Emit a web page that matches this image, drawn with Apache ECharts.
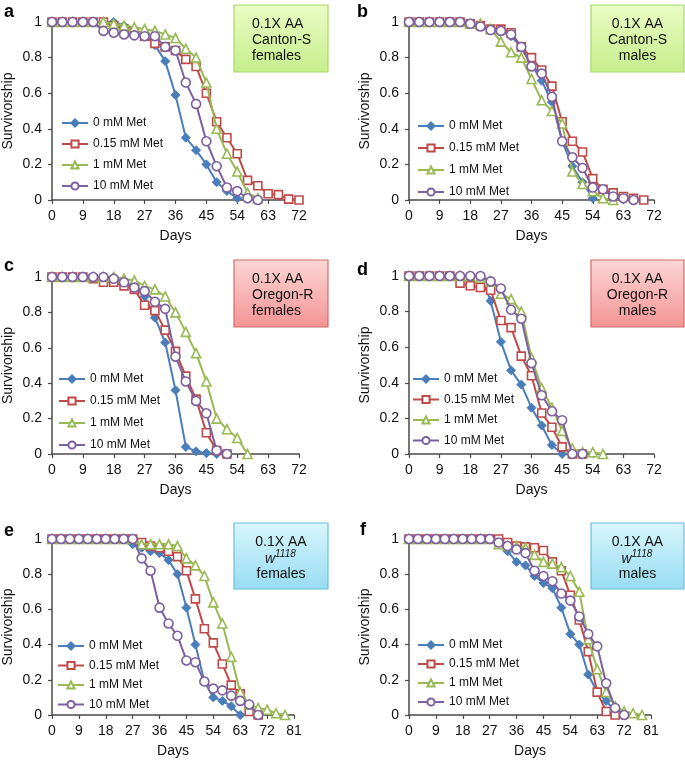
<!DOCTYPE html>
<html>
<head>
<meta charset="utf-8">
<script src="https://cdn.jsdelivr.net/npm/echarts@6/dist/echarts.min.js"></script>
<style>
html,body{margin:0;padding:0;background:#fff;}
#chart{width:685px;height:760px;}
</style>
</head>
<body>
<div id="chart"></div>
<script>
// Names and tick labels
const seriesNames = ['0 mM Met', '0.15 mM Met', '1 mM Met', '10 mM Met'];
const panelLetters = ['a', 'b', 'c', 'd', 'e', 'f'];
const xMaxes = [72, 72, 72, 72, 81, 81];
const xAxisName = 'Days';
const yAxisName = 'Survivorship';
const boxLines = [
  ['0.1X AA', 'Canton-S', 'females'],
  ['0.1X AA', 'Canton-S', 'males'],
  ['0.1X AA', 'Oregon-R', 'females'],
  ['0.1X AA', 'Oregon-R', 'males'],
  ['0.1X AA', 'w1118', 'females'],
  ['0.1X AA', 'w1118', 'males']
];

// Survivorship values, sampled every 3 days starting at day 0
// Panel a: Canton-S females
const a_0mM   = [1,1,1,1,1,1,1,0.98,0.96,0.93,0.87,0.78,0.59,0.35,0.28,0.20,0.10,0.05,0.01];
const a_015mM = [1,1,1,1,1,1,0.98,0.96,0.94,0.92,0.88,0.86,0.84,0.79,0.75,0.60,0.44,0.35,0.26,0.11,0.08,0.035,0.03,0.005,0];
const a_1mM   = [1,1,1,1,1,1,0.99,0.98,0.97,0.96,0.95,0.93,0.91,0.85,0.80,0.66,0.40,0.26,0.16,0.04,0.01];
const a_10mM  = [1,1,1,1,1,0.95,0.94,0.93,0.925,0.92,0.92,0.86,0.84,0.66,0.54,0.33,0.19,0.07,0.05,0.01,0];
// Panel b: Canton-S males
const b_0mM   = [1,1,1,1,1,1,0.99,0.975,0.955,0.95,0.92,0.86,0.76,0.67,0.55,0.33,0.19,0.10,0.01];
const b_015mM = [1,1,1,1,1,1,0.99,0.98,0.96,0.96,0.94,0.86,0.80,0.73,0.64,0.44,0.33,0.27,0.12,0.06,0.04,0.02,0.01,0];
const b_1mM   = [1,1,1,1,1,1,0.99,0.99,0.96,0.89,0.83,0.80,0.68,0.56,0.50,0.43,0.16,0.09,0.05,0.01,0];
const b_10mM  = [1,1,1,1,1,1,0.99,0.975,0.955,0.95,0.93,0.86,0.75,0.71,0.58,0.33,0.24,0.18,0.07,0.06,0.02,0.01,0];
// Panel c: Oregon-R females
const c_0mM   = [1,1,1,1,1,1,1,0.98,0.94,0.89,0.77,0.63,0.36,0.04,0.015,0.005,0];
const c_015mM = [1,1,1,1,0.99,0.97,0.97,0.95,0.93,0.84,0.81,0.70,0.58,0.44,0.31,0.12,0.02,0];
const c_1mM   = [1,1,1,1,1,1,1,0.99,0.98,0.95,0.93,0.89,0.80,0.69,0.57,0.41,0.20,0.14,0.09,0];
const c_10mM  = [1,1,1,1,1,1,0.99,0.97,0.94,0.92,0.86,0.82,0.55,0.41,0.30,0.23,0.02,0];
// Panel d: Oregon-R males
const d_0mM   = [1,1,1,1,1,1,1,1,0.86,0.63,0.47,0.39,0.26,0.16,0.05,0];
const d_015mM = [1,1,1,1,1,0.96,0.945,0.935,0.92,0.75,0.71,0.55,0.44,0.23,0.15,0.04,0,0];
const d_1mM   = [1,1,1,1,1,1,1,0.99,0.97,0.90,0.87,0.80,0.54,0.37,0.26,0.13,0.03,0.01,0.01,0];
const d_10mM  = [1,1,1,1,1,1,1,1,0.97,0.93,0.81,0.76,0.51,0.33,0.24,0.19,0,0];
// Panel e: w1118 females
const e_0mM   = [1,1,1,1,1,1,1,1,1,0.97,0.95,0.93,0.92,0.88,0.80,0.61,0.40,0.19,0.10,0.08,0.05,0];
const e_015mM = [1,1,1,1,1,1,1,1,1,1,0.98,0.96,0.95,0.93,0.90,0.82,0.66,0.49,0.41,0.29,0.17,0.12,0.02,0];
const e_1mM   = [1,1,1,1,1,1,1,1,1,1,0.97,0.97,0.97,0.97,0.96,0.89,0.85,0.79,0.64,0.52,0.33,0.13,0.06,0.04,0.03,0.01,0];
const e_10mM  = [1,1,1,1,1,1,1,1,1,1,0.89,0.82,0.61,0.52,0.45,0.31,0.30,0.19,0.15,0.14,0.11,0.08,0.06,0];
// Panel f: w1118 males
const f_0mM   = [1,1,1,1,1,1,1,1,1,1,0.99,0.93,0.87,0.85,0.79,0.75,0.72,0.61,0.46,0.40,0.23,0.13,0.08,0.02,0];
const f_015mM = [1,1,1,1,1,1,1,1,1,1,1,0.98,0.96,0.955,0.95,0.935,0.87,0.82,0.68,0.54,0.36,0.13,0.02,0];
const f_1mM   = [1,1,1,1,1,1,1,1,1,1,0.97,0.96,0.96,0.95,0.91,0.87,0.86,0.84,0.79,0.70,0.43,0.26,0.13,0.05,0.02,0.01,0];
const f_10mM  = [1,1,1,1,1,1,1,1,1,1,0.98,0.96,0.94,0.92,0.82,0.79,0.76,0.69,0.65,0.56,0.46,0.39,0.18,0.04,0];

const panels = [
  [a_0mM, a_015mM, a_1mM, a_10mM],
  [b_0mM, b_015mM, b_1mM, b_10mM],
  [c_0mM, c_015mM, c_1mM, c_10mM],
  [d_0mM, d_015mM, d_1mM, d_10mM],
  [e_0mM, e_015mM, e_1mM, e_10mM],
  [f_0mM, f_015mM, f_1mM, f_10mM]
];
const dayStep = 3;

// ---- styling / layout ----
const colors = ['#4A7EBB', '#BE4B48', '#98B954', '#7D60A0'];
const symbols = ['diamond', 'rect', 'triangle', 'circle'];
const symbolSizes = [9, 8, 9, 9];
const FONT = 'Liberation Sans, Arial, sans-serif';
const AXIS_COLOR = '#4a4a4a';

const grids = [
  {left: 52, top: 22, width: 247, height: 178},
  {left: 409, top: 22, width: 245, height: 178},
  {left: 52, top: 277, width: 247, height: 177},
  {left: 409, top: 276, width: 245, height: 178},
  {left: 52, top: 539, width: 242, height: 176},
  {left: 409, top: 539, width: 242, height: 176}
];
const legendPos = [
  {left: 61, top: 117, gap: 9}, {left: 417, top: 120, gap: 10},
  {left: 58, top: 373, gap: 10}, {left: 412, top: 373, gap: 8.5},
  {left: 57, top: 640, gap: 7.5}, {left: 417, top: 639, gap: 7}
];
const letterPos = [[4, 3], [357, 3], [4, 257], [357, 261], [4, 522], [360, 521]];
const boxPos = [
  {x: 234, y: 5, w: 94, h: 67, align: 'left', tx: 252},
  {x: 591, y: 5, w: 93, h: 67, align: 'center', tx: 637.5},
  {x: 234, y: 260, w: 94, h: 67, align: 'left', tx: 252},
  {x: 591, y: 260, w: 93, h: 67, align: 'center', tx: 637.5},
  {x: 234, y: 523, w: 94, h: 66, align: 'center', tx: 281},
  {x: 591, y: 523, w: 93, h: 66, align: 'center', tx: 637.5}
];
const boxColors = [
  ['#eafcc4', '#c6ee8c', '#a9d86a'],
  ['#eafcc4', '#c6ee8c', '#a9d86a'],
  ['#fdd6d6', '#f39494', '#d46a6a'],
  ['#fdd6d6', '#f39494', '#d46a6a'],
  ['#d8f6fd', '#98dcf2', '#6cc0d8'],
  ['#d8f6fd', '#98dcf2', '#6cc0d8']
];

const xAxes = [], yAxes = [], series = [], legends = [], graphics = [];
grids.forEach((g, i) => {
  xAxes.push({
    type: 'value', gridIndex: i, min: 0, max: xMaxes[i], interval: 9,
    name: xAxisName, nameLocation: 'middle', nameGap: 29,
    nameTextStyle: {fontFamily: FONT, fontSize: 14, color: '#111'},
    axisLine: {lineStyle: {color: AXIS_COLOR, width: 1.5}},
    axisTick: {show: true, length: 4, lineStyle: {color: AXIS_COLOR, width: 1.2}},
    axisLabel: {fontFamily: FONT, fontSize: 14, color: '#111', margin: 9},
    splitLine: {show: false}
  });
  yAxes.push({
    type: 'value', gridIndex: i, min: 0, max: 1, interval: 0.2,
    name: yAxisName, nameLocation: 'middle', nameGap: 37,
    nameTextStyle: {fontFamily: FONT, fontSize: 14, color: '#111'},
    axisLine: {show: true, lineStyle: {color: AXIS_COLOR, width: 1.5}},
    axisTick: {show: true, length: 4, lineStyle: {color: AXIS_COLOR, width: 1.2}},
    axisLabel: {fontFamily: FONT, fontSize: 14, color: '#111', margin: 10},
    splitLine: {show: false}
  });
  panels[i].forEach((vals, k) => {
    series.push({
      type: 'line', name: seriesNames[k], xAxisIndex: i, yAxisIndex: i,
      data: vals.map((v, j) => [j * dayStep, v]),
      symbol: symbols[k], symbolSize: symbolSizes[k], showAllSymbol: true,
      lineStyle: {color: colors[k], width: 2},
      itemStyle: k === 0
        ? {color: colors[k], borderColor: colors[k], borderWidth: 1}
        : {color: '#ffffff', borderColor: colors[k], borderWidth: 1.6},
      emphasis: {disabled: true},
      z: 2 + k
    });
  });
  legends.push({
    orient: 'vertical', left: legendPos[i].left, top: legendPos[i].top,
    padding: 0,
    itemWidth: 26, itemHeight: 9, itemGap: legendPos[i].gap, selectedMode: false,
    textStyle: {fontFamily: FONT, fontSize: 12, color: '#111'},
    data: seriesNames
  });
  graphics.push({
    type: 'text', left: letterPos[i][0], top: letterPos[i][1],
    style: {text: panelLetters[i], font: 'bold 18px ' + FONT, fill: '#000'}
  });
  const b = boxPos[i], c = boxColors[i];
  graphics.push({
    type: 'rect', shape: {x: b.x, y: b.y, width: b.w, height: b.h},
    style: {
      fill: new echarts.graphic.LinearGradient(0, 0, 0, 1, [
        {offset: 0, color: c[0]}, {offset: 1, color: c[1]}
      ]),
      stroke: c[2], lineWidth: 1.2
    }, z: 10
  });
  const lines = boxLines[i];
  const lineYs = [b.y + 19, b.y + 35, b.y + 51];
  lines.forEach((t, li) => {
    if (t === 'w1118') {
      // italic "w" with superscript "1118"
      graphics.push({type: 'text', z: 11, style: {
        text: 'w', x: b.tx - 16, y: lineYs[li] + 1, align: 'left', verticalAlign: 'middle',
        font: 'italic 14px ' + FONT, fill: '#111'
      }});
      graphics.push({type: 'text', z: 11, style: {
        text: '1118', x: b.tx - 6, y: lineYs[li] - 4, align: 'left', verticalAlign: 'middle',
        font: 'italic 10px ' + FONT, fill: '#111'
      }});
    } else {
      graphics.push({type: 'text', z: 11, style: {
        text: t, x: b.tx, y: lineYs[li], align: b.align, verticalAlign: 'middle',
        font: '14px ' + FONT, fill: '#111'
      }});
    }
  });
});

const chart = echarts.init(document.getElementById('chart'), null, {renderer: 'canvas'});
chart.setOption({
  animation: false,
  backgroundColor: '#ffffff',
  grid: grids,
  xAxis: xAxes,
  yAxis: yAxes,
  legend: legends,
  series: series,
  graphic: graphics
});
</script>
</body>
</html>
